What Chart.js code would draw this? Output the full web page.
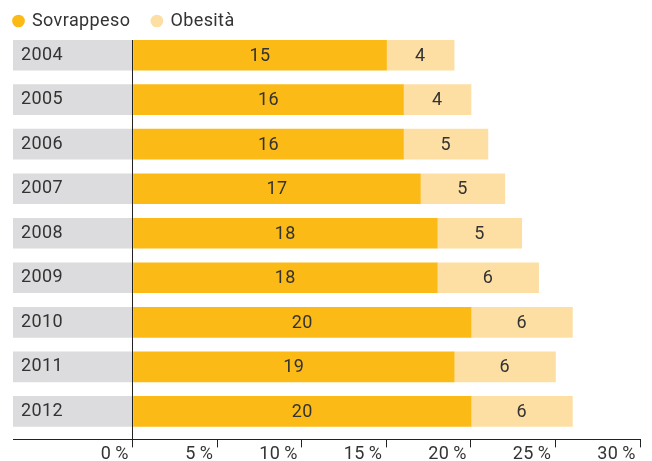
<!DOCTYPE html>
<html>
<head>
<meta charset="utf-8">
<script src="https://cdn.jsdelivr.net/npm/chart.js@4/dist/chart.umd.min.js"></script>
<style>
  html, body { margin: 0; padding: 0; background: #fff; }
</style>
</head>
<body>
<canvas id="c" width="652" height="461"></canvas>
<script>
// data (percent)
const years = ['2004', '2005', '2006', '2007', '2008', '2009', '2010', '2011', '2012'];
const sovrappeso = [15, 16, 16, 17, 18, 18, 20, 19, 20];
const obesita = [4, 4, 5, 5, 5, 6, 6, 6, 6];
const xTicks = [0, 5, 10, 15, 20, 25, 30];
const labelBand = -7.1; // grey box behind the year labels, left of 0

const FONT = 'Roboto, "DejaVu Sans", sans-serif';
const TEXT = '#333333';

// the original font is a bit more spaced out than Roboto
const spacing = {
  id: 'spacing',
  beforeUpdate(chart) { chart.ctx.letterSpacing = '0.4px'; },
  beforeDraw(chart) { chart.ctx.letterSpacing = '0.4px'; }
};

// writes the value in the middle of each coloured segment
const valueLabels = {
  id: 'valueLabels',
  afterDatasetsDraw(chart) {
    const ctx = chart.ctx;
    ctx.save();
    ctx.font = '18px ' + FONT;
    ctx.fillStyle = TEXT;
    ctx.textAlign = 'center';
    ctx.textBaseline = 'middle';
    [1, 2].forEach(di => {
      const meta = chart.getDatasetMeta(di);
      const vals = chart.data.datasets[di].data;
      meta.data.forEach((bar, i) => {
        ctx.fillText(String(vals[i].x), (bar.x + bar.base) / 2, bar.y + 1);
      });
    });
    ctx.restore();
  }
};

new Chart(document.getElementById('c'), {
  type: 'bar',
  data: {
    datasets: [
      {
        label: 'anno',
        data: years.map((y, i) => ({ x: labelBand, y: i })),
        backgroundColor: '#dcdcde',
        barThickness: 30
      },
      {
        label: 'Sovrappeso',
        data: sovrappeso.map((v, i) => ({ x: v, y: i })),
        backgroundColor: '#fbba16',
        barThickness: 30
      },
      {
        label: 'Obesità',
        data: obesita.map((v, i) => ({ x: v, y: i })),
        backgroundColor: '#fddfa4',
        barThickness: 30
      }
    ]
  },
  options: {
    indexAxis: 'y',
    responsive: false,
    animation: false,
    layout: { padding: { left: -8, right: 12, top: -10, bottom: 0 } },
    plugins: {
      tooltip: { enabled: false },
      legend: {
        position: 'top',
        align: 'start',
        labels: {
          filter: item => item.datasetIndex > 0,
          usePointStyle: true,
          pointStyle: 'circle',
          boxWidth: 9,
          boxHeight: 9,
          padding: 22,
          color: TEXT,
          font: { family: FONT, size: 18 }
        }
      }
    },
    scales: {
      x: {
        type: 'linear',
        stacked: true,
        min: labelBand,
        max: 30,
        afterBuildTicks: s => { s.ticks = xTicks.map(v => ({ value: v })); },
        grid: {
          z: 1,
          color: c => (c.tick && c.tick.value === 0 ? '#222' : 'rgba(0,0,0,0)'),
          tickColor: '#222',
          tickLength: 8,
          lineWidth: 1
        },
        border: { display: true, z: 1, color: '#222', width: 1 },
        ticks: {
          align: 'end',
          padding: -4,
          color: TEXT,
          font: { family: FONT, size: 18 },
          callback: v => v + '\u2009%\u2009'
        }
      },
      y: {
        type: 'linear',
        stacked: true,
        offset: false,
        reverse: true,
        min: -0.34,
        max: 8.63,
        afterBuildTicks: s => { s.ticks = years.map((y, i) => ({ value: i })); },
        afterFit: s => { s.width = 21; },
        grid: { display: false },
        border: { display: false },
        ticks: {
          mirror: true,
          z: 1,
          padding: 8,
          color: TEXT,
          font: { family: FONT, size: 18 },
          callback: v => years[v]
        }
      }
    }
  },
  plugins: [spacing, valueLabels]
});
</script>
</body>
</html>
